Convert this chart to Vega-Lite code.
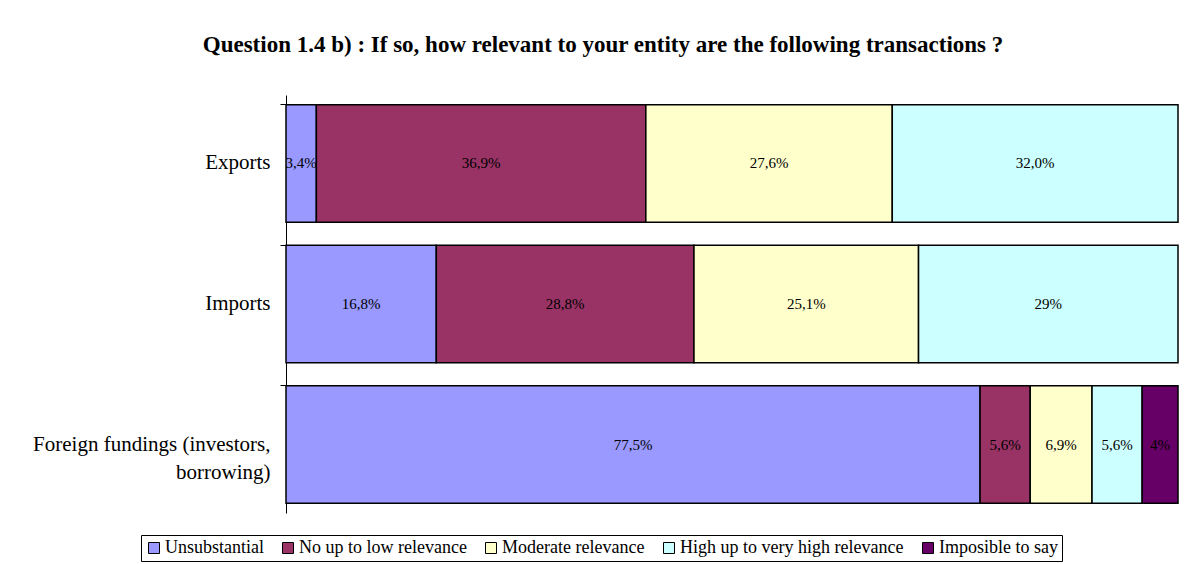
{
  "$schema": "https://vega.github.io/schema/vega-lite/v6.json",
  "autosize": {"type": "none"},
  "padding": {"left": 286, "top": 95, "right": 9, "bottom": 51},
  "width": 892,
  "height": 418,
  "background": "white",
  "title": {
    "text": "Question 1.4 b) : If so, how relevant to your entity are the following transactions ?",
    "font": "Liberation Serif",
    "fontSize": 23,
    "fontWeight": "bold",
    "color": "black",
    "anchor": "middle",
    "frame": "group",
    "dx": -129,
    "offset": 38
  },
  "data": {
    "values": [
      {"item": "Exports", "category": "Unsubstantial", "order": 1, "value": 3.4, "label": "3,4%"},
      {"item": "Exports", "category": "No up to low relevance", "order": 2, "value": 36.9, "label": "36,9%"},
      {"item": "Exports", "category": "Moderate relevance", "order": 3, "value": 27.6, "label": "27,6%"},
      {"item": "Exports", "category": "High up to very high relevance", "order": 4, "value": 32.0, "label": "32,0%"},
      {"item": "Imports", "category": "Unsubstantial", "order": 1, "value": 16.8, "label": "16,8%"},
      {"item": "Imports", "category": "No up to low relevance", "order": 2, "value": 28.8, "label": "28,8%"},
      {"item": "Imports", "category": "Moderate relevance", "order": 3, "value": 25.1, "label": "25,1%"},
      {"item": "Imports", "category": "High up to very high relevance", "order": 4, "value": 29, "label": "29%"},
      {"item": "Foreign fundings (investors, borrowing)", "category": "Unsubstantial", "order": 1, "value": 77.5, "label": "77,5%"},
      {"item": "Foreign fundings (investors, borrowing)", "category": "No up to low relevance", "order": 2, "value": 5.6, "label": "5,6%"},
      {"item": "Foreign fundings (investors, borrowing)", "category": "Moderate relevance", "order": 3, "value": 6.9, "label": "6,9%"},
      {"item": "Foreign fundings (investors, borrowing)", "category": "High up to very high relevance", "order": 4, "value": 5.6, "label": "5,6%"},
      {"item": "Foreign fundings (investors, borrowing)", "category": "Imposible to say", "order": 5, "value": 4, "label": "4%"}
    ]
  },
  "encoding": {
    "y": {
      "field": "item",
      "type": "nominal",
      "sort": ["Exports", "Imports", "Foreign fundings (investors, borrowing)"],
      "scale": {"paddingInner": 0.165, "paddingOuter": 0.07},
      "axis": {
        "title": null,
        "domainColor": "black",
        "domainWidth": 1,
        "tickColor": "black",
        "tickSize": 6,
        "bandPosition": 0,
        "labelFont": "Liberation Serif",
        "labelFontSize": 21,
        "labelColor": "black",
        "labelPadding": 10,
        "labelLimit": 300,
        "labelLineHeight": 28,
        "labelExpr": "datum.value == 'Foreign fundings (investors, borrowing)' ? ['Foreign fundings (investors,', 'borrowing)'] : datum.value"
      }
    },
    "x": {
      "field": "value",
      "type": "quantitative",
      "stack": "normalize",
      "axis": null
    },
    "order": {"field": "order", "type": "quantitative"}
  },
  "layer": [
    {
      "mark": {"type": "bar", "stroke": "black", "strokeWidth": 1.5},
      "encoding": {
        "color": {
          "field": "category",
          "type": "nominal",
          "sort": ["Unsubstantial", "No up to low relevance", "Moderate relevance", "High up to very high relevance", "Imposible to say"],
          "scale": {
            "domain": ["Unsubstantial", "No up to low relevance", "Moderate relevance", "High up to very high relevance", "Imposible to say"],
            "range": ["#9999FF", "#993366", "#FFFFCC", "#CCFFFF", "#660066"]
          },
          "legend": {
            "title": null,
            "orient": "none",
            "legendX": -145,
            "legendY": 440,
            "direction": "horizontal",
            "columns": 5,
            "symbolType": "square",
            "symbolSize": 121,
            "symbolStrokeColor": "black",
            "symbolStrokeWidth": 1,
            "symbolOpacity": 1,
            "labelFont": "Liberation Serif",
            "labelFontSize": 18,
            "labelColor": "black",
            "labelOffset": 2,
            "labelLimit": 400,
            "columnPadding": 15,
            "strokeColor": "black",
            "padding": 4
          }
        }
      }
    },
    {
      "mark": {"type": "text", "font": "Liberation Serif", "fontSize": 15, "color": "black"},
      "encoding": {
        "x": {"field": "value", "type": "quantitative", "stack": "normalize", "bandPosition": 0.5},
        "text": {"field": "label", "type": "nominal"}
      }
    }
  ],
  "config": {
    "view": {"stroke": null}
  }
}
